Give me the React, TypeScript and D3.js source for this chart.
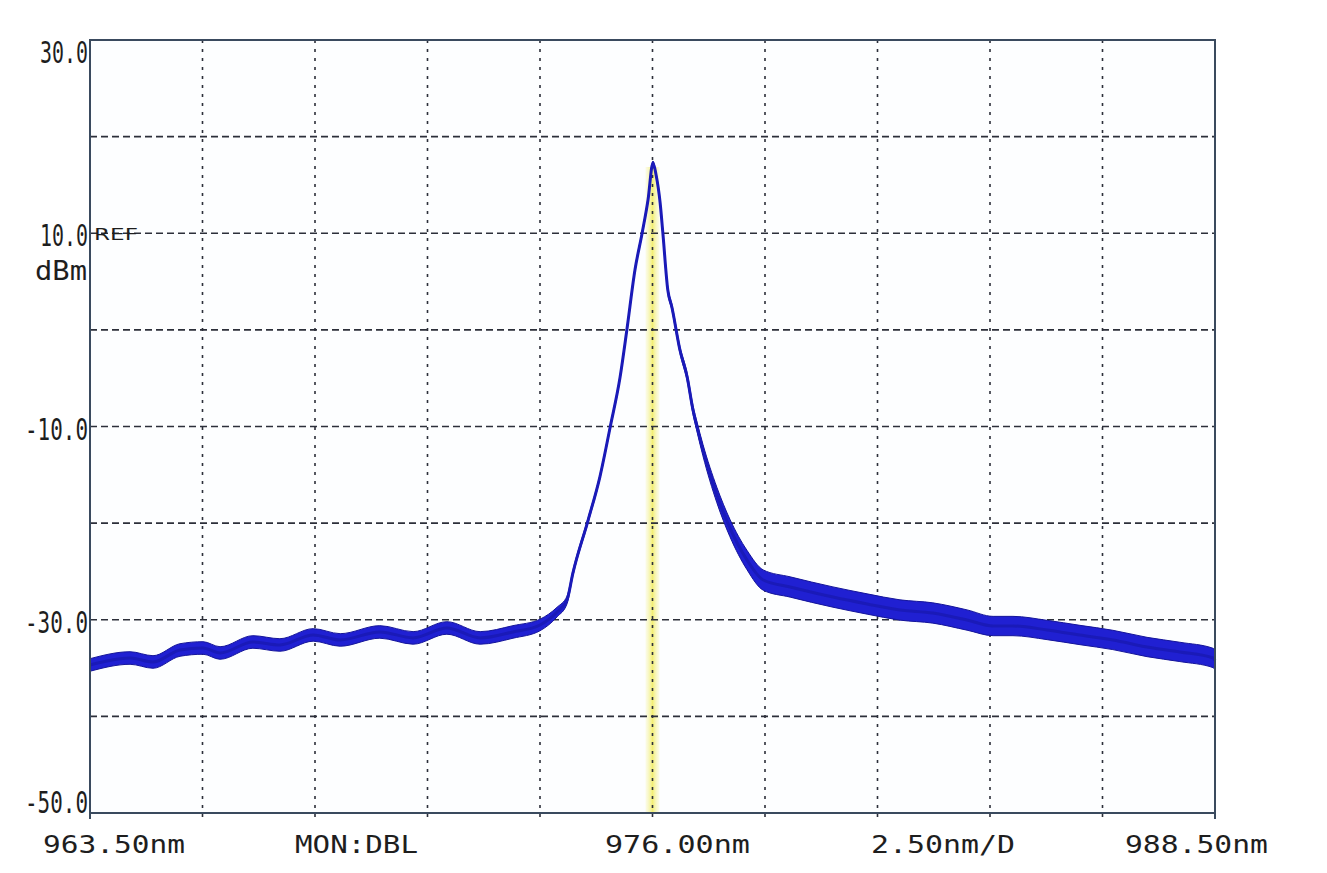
import React from "react";
import * as d3 from "d3";

// ---- data ----
const wavelengthNm = [
  963.5, 964.39, 964.9, 965.5, 966.01, 966.39, 967.12, 967.72, 968.46, 969.06,
  969.94, 970.68, 971.43, 972.17, 972.9, 973.5, 973.88, 974.1, 974.23, 974.57,
  974.83, 975.06, 975.28, 975.43, 975.61, 975.77, 975.9, 976.01, 976.08, 976.17,
  976.23, 976.34, 976.43, 976.61, 976.77, 976.9, 976.99, 977.12, 977.43, 977.72,
  978.1, 978.46, 979.06, 980.01, 980.77, 981.5, 982.23, 982.99, 983.57, 984.01,
  984.77, 985.5, 986.23, 986.99, 987.72, 988.46, 988.5,
];
const powerDbm = [
  -34.68, -33.96, -34.37, -33.13, -32.92, -33.44, -32.3, -32.61, -31.57, -32.09,
  -31.26, -31.88, -30.85, -31.88, -31.26, -30.54, -29.2, -27.96, -25.2, -19.68,
  -15.23, -10.05, -4.88, -0.01, 6.2, 10.03, 13.44, 17.27, 16.03, 13.13,
  10.03, 4.13, 2.37, -2.08, -4.88, -8.29, -10.05, -12.43, -17.09, -20.5,
  -23.82, -25.89, -26.61, -27.65, -28.37, -28.99, -29.3, -30.03, -30.65, -30.65,
  -31.06, -31.58, -32.09, -32.82, -33.33, -33.96, -34.2,
];
const rippleDb = [
  0.65, 0.65, 0.65, 0.65, 0.65, 0.65, 0.65, 0.65, 0.65, 0.65,
  0.65, 0.65, 0.65, 0.65, 0.65, 0.6, 0.5, 0.4, 0.3, 0.25,
  0.2, 0.2, 0.2, 0.2, 0.2, 0.2, 0.2, 0.2, 0.2, 0.2,
  0.25, 0.3, 0.3, 0.35, 0.4, 0.45, 0.5, 0.6, 0.8, 0.9,
  1.0, 1.05, 1.05, 1.05, 1.05, 1.05, 1.05, 1.05, 1.0, 1.0,
  1.0, 1.0, 1.0, 1.0, 1.0, 1.0, 1.0,
];
const yTickLabels = ["30.0", "10.0", "-10.0", "-30.0", "-50.0"];
const yTickValues = [30, 10, -10, -30, -50];
const bottomLabels = ["963.50nm", "MON:DBL", "976.00nm", "2.50nm/D", "988.50nm"];
const markerNm = 976.0;

const W = 1327;
const H = 873;
const M = { left: 90, right: 1215, top: 40, bottom: 813 };

export default function App() {
  const x = d3.scaleLinear().domain([963.5, 988.5]).range([M.left, M.right]);
  const y = d3.scaleLinear().domain([-50, 30]).range([M.bottom, M.top]);

  const pts = wavelengthNm.map((w, i) => ({ w, v: powerDbm[i], r: rippleDb[i] }));
  const area = d3
    .area<{ w: number; v: number; r: number }>()
    .x((d) => x(d.w))
    .y0((d) => y(d.v - d.r))
    .y1((d) => y(d.v + d.r))
    .curve(d3.curveMonotoneX);
  const line = d3
    .line<{ w: number; v: number; r: number }>()
    .x((d) => x(d.w))
    .y((d) => y(d.v))
    .curve(d3.curveMonotoneX);

  const xGrid = d3.range(1, 10).map((i) => 963.5 + i * 2.5);
  const yGrid = d3.range(1, 8).map((i) => -50 + i * 10);

  const mono = "'DejaVu Sans Mono', 'Liberation Mono', monospace";
  const txt = "#1e1e1e";
  const gridColor = "#2c2f3a";

  const yLabelBaseline = (v: number, i: number) =>
    i === 0 ? M.top + 23 : i === yTickValues.length - 1 ? M.bottom : y(v) + 13;
  const yLabelLen = (s: string) => (s.startsWith("-") ? 63 : 48);
  const yFont = 30;
  const yScaleX = (s: string) => yLabelLen(s) / (s.length * 0.602 * yFont);

  const bottomX = [43, 295, 605, 871, 1125];
  const bottomLen = [142, 123, 145, 144, 143];

  const peak = d3.max(powerDbm) as number;

  return (
    <svg
      width={W}
      height={H}
      style={{ position: "absolute", left: 0, top: 0, background: "#fff" }}
    >
      <defs>
        <linearGradient id="mk" x1="0" x2="1" y1="0" y2="0">
          <stop offset="0" stopColor="#f7f5b8" stopOpacity="0.3" />
          <stop offset="0.5" stopColor="#f2ee6e" stopOpacity="0.95" />
          <stop offset="1" stopColor="#f7f5b8" stopOpacity="0.3" />
        </linearGradient>
      </defs>
      <rect x={M.left} y={M.top} width={M.right - M.left} height={M.bottom - M.top} fill="#fdfeff" />

      {/* marker */}
      <rect
        x={x(markerNm) - 7}
        y={y(peak) + 4}
        width={14}
        height={M.bottom - y(peak) - 4}
        fill="url(#mk)"
      />

      {/* grid */}
      {yGrid.map((v) => (
        <line
          key={"h" + v}
          x1={M.left}
          x2={M.right}
          y1={y(v)}
          y2={y(v)}
          stroke={gridColor}
          strokeWidth={1.6}
          strokeDasharray="7 4"
        />
      ))}
      {xGrid.map((w) => (
        <line
          key={"v" + w}
          x1={x(w)}
          x2={x(w)}
          y1={M.top}
          y2={M.bottom + 4}
          stroke={gridColor}
          strokeWidth={1.6}
          strokeDasharray="3 6"
        />
      ))}

      {/* trace */}
      <path d={area(pts) || ""} fill="#2020d2" stroke="#15159a" strokeWidth={1} />
      <path d={line(pts) || ""} fill="none" stroke="#1a1ab8" strokeWidth={3} />

      {/* frame */}
      <rect
        x={M.left}
        y={M.top}
        width={M.right - M.left}
        height={M.bottom - M.top}
        fill="none"
        stroke="#3a4a5e"
        strokeWidth={2}
      />
      <line x1={M.left} x2={M.left} y1={M.bottom} y2={M.bottom + 6} stroke="#3a4a5e" strokeWidth={2} />
      <line x1={M.right} x2={M.right} y1={M.bottom} y2={M.bottom + 6} stroke="#3a4a5e" strokeWidth={2} />

      {/* y labels */}
      {yTickLabels.map((s, i) => (
        <text
          key={s}
          transform={`translate(88,${yLabelBaseline(yTickValues[i], i)}) scale(${yScaleX(s)},1)`}
          textAnchor="end"
          fontFamily={mono}
          fontSize={yFont}
          fill={txt}
        >
          {s}
        </text>
      ))}
      <text
        transform={`translate(87,280) scale(${52 / (3 * 0.602 * 27)},1)`}
        textAnchor="end"
        fontFamily={mono}
        fontSize={27}
        fill={txt}
      >
        dBm
      </text>
      <text
        x={94}
        y={240}
        fontFamily="'DejaVu Sans', sans-serif"
        fontSize={15}
        fill={txt}
        textLength={44}
        lengthAdjust="spacingAndGlyphs"
      >
        REF
      </text>

      {/* bottom labels */}
      {bottomLabels.map((s, i) => (
        <text
          key={s}
          x={bottomX[i]}
          y={853}
          fontFamily={mono}
          fontSize={25}
          fill={txt}
          textLength={bottomLen[i]}
          lengthAdjust="spacingAndGlyphs"
        >
          {s}
        </text>
      ))}
    </svg>
  );
}
